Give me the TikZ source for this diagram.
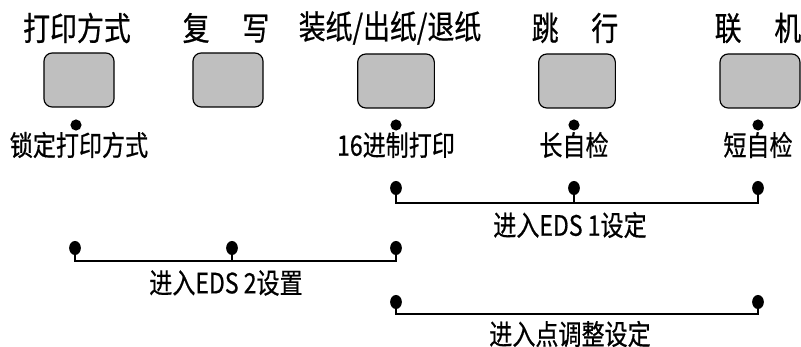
\documentclass[tikz,border=0pt]{standalone}
\usepackage{fontspec}
\newfontfamily\cjk[FakeStretch=0.82,FakeBold=0.6]{Noto Sans CJK SC}
\usetikzlibrary{positioning,shapes.geometric}

\begin{document}
\begin{tikzpicture}[x=0.03cm,y=-0.03cm,line width=1.7pt,
  key/.style={draw,line width=1pt,fill=black!25,rounded corners=7pt,minimum width=2.1cm,minimum height=1.62cm},
  keyname/.style={font=\cjk\fontsize{28}{30}\selectfont,inner sep=0pt},
  tag/.style={font=\cjk\fontsize{24}{26}\selectfont,inner sep=0pt},
  led/.style={circle,fill,inner sep=0pt,minimum size=9.5pt},
  pin/.style={ellipse,fill,inner sep=0pt,minimum width=10pt,minimum height=12pt}]
  \useasboundingbox (0,0) rectangle (801,347);
  % teclas del panel
  \node[key] (k1) at (79,80){};
  \node[key] (k2) at (228,80){};
  \node[key,minimum width=2.3cm] (k3) at (396,81){};
  \node[key,minimum width=2.3cm] (k4) at (577,81){};
  \node[key,minimum width=2.4cm] (k5) at (760,81){};
  \node[keyname] (n1) at (77,28){打印方式};
  \node[keyname] (n2) at (226,28){复\hspace{1em}写};
  \node[keyname] (n3) at (390,28){装纸/出纸/退纸};
  \node[keyname] (n4) at (575,28){跳\hspace{1em}行};
  \node[keyname] (n5) at (758,28){联\hspace{1em}机};
  % indicadores
  \node[led] (l1) at (76,125){};
  \node[led] (l3) at (396,125){};
  \node[led] (l4) at (574,125){};
  \node[led] (l5) at (758,125){};
  \node[tag] (t1) at (79,145){锁定打印方式};
  \node[tag] (t3) at (396,145){16进制打印};
  \node[tag] (t4) at (574,145){长自检};
  \node[tag] (t5) at (758,145){短自检};
  % combinaciones de teclas
  \node[pin] (a1) at (396,188){};
  \node[pin] (a2) at (574,188){};
  \node[pin] (a3) at (758,188){};
  \coordinate (la) at (0,203);
  \draw (a1.center)--(a1.center|-la)--(a3.center|-la)--(a3.center) (a2.center)--(a2.center|-la);
  \node[tag] (ta) at (570,225){进入EDS 1设定};
  \node[pin] (b1) at (75,248){};
  \node[pin] (b2) at (232,248){};
  \node[pin] (b3) at (396,248){};
  \coordinate (lb) at (0,261);
  \draw (b1.center)--(b1.center|-lb)--(b3.center|-lb)--(b3.center) (b2.center)--(b2.center|-lb);
  \node[tag] (tb) at (226,283){进入EDS 2设置};
  \node[pin] (c1) at (396,302){};
  \node[pin] (c2) at (758,302){};
  \coordinate (lc) at (0,314);
  \draw (c1.center)--(c1.center|-lc)--(c2.center|-lc)--(c2.center);
  \node[tag] (tc) at (570,334){进入点调整设定};
\end{tikzpicture}
\end{document}
